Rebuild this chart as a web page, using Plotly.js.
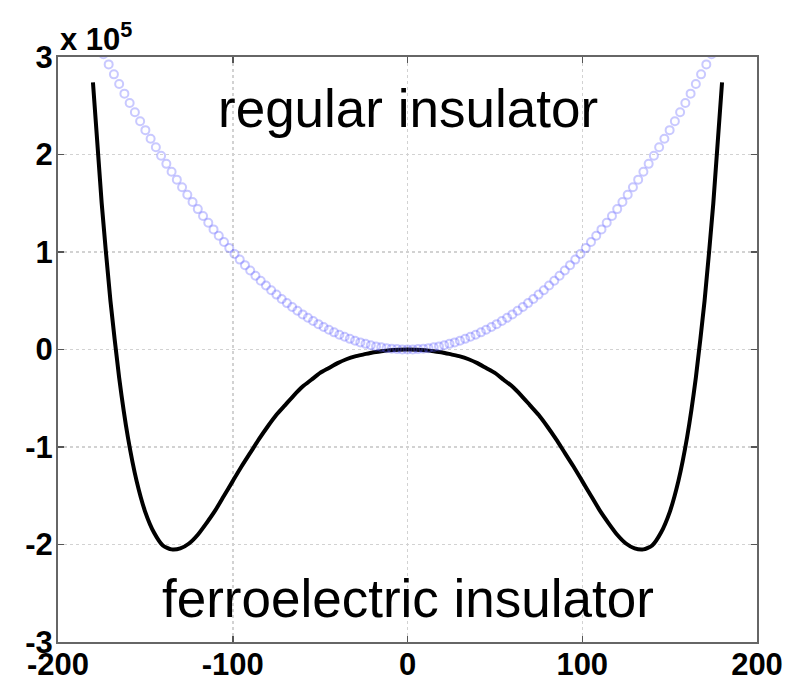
<!DOCTYPE html>
<html>
<head>
<meta charset="utf-8">
<script src="https://cdn.plot.ly/plotly-3.0.1.min.js"></script>
<style>html,body{margin:0;padding:0;background:#fff;}#chart{width:804px;height:683px;}</style>
</head>
<body>
<div id="chart"></div>
<script>
// Ferroelectric double-well curve (energy in units of 1e5)
var ferroX = [-180,-175,-170,-165,-160,-155,-150,-145,-140,-135,-130,-125,-120,-115,-110,-105,-100,-95,-90,-85,-80,-75,-70,-65,-60,-55,-50,-45,-40,-35,-30,-25,-20,-15,-10,-5,0,
              5,10,15,20,25,30,35,40,45,50,55,60,65,70,75,80,85,90,95,100,105,110,115,120,125,130,135,140,145,150,155,160,165,170,175,180];
var ferroY = [2.74,1.50,0.50,-0.29,-0.90,-1.35,-1.67,-1.88,-2.01,-2.05,-2.04,-1.99,-1.90,-1.78,-1.65,-1.50,-1.35,-1.20,-1.06,-0.92,-0.79,-0.67,-0.57,-0.47,-0.38,-0.31,-0.24,-0.19,-0.14,-0.10,-0.07,-0.05,-0.03,-0.017,-0.007,-0.002,0,
              -0.002,-0.007,-0.017,-0.03,-0.05,-0.07,-0.10,-0.14,-0.19,-0.24,-0.31,-0.38,-0.47,-0.57,-0.67,-0.79,-0.92,-1.06,-1.20,-1.35,-1.50,-1.65,-1.78,-1.90,-1.99,-2.04,-2.05,-2.01,-1.88,-1.67,-1.35,-0.90,-0.29,0.50,1.50,2.74];

// Regular insulator parabola (energy in units of 1e5)
var regX = [-174,-171,-168,-165,-162,-159,-156,-153,-150,-147,-144,-141,-138,-135,-132,-129,-126,-123,-120,-117,-114,-111,-108,-105,-102,-99,-96,-93,-90,-87,-84,-81,-78,-75,-72,-69,-66,-63,-60,-57,-54,-51,-48,-45,-42,-39,-36,-33,-30,-27,-24,-21,-18,-15,-12,-9,-6,-3,0,
            3,6,9,12,15,18,21,24,27,30,33,36,39,42,45,48,51,54,57,60,63,66,69,72,75,78,81,84,87,90,93,96,99,102,105,108,111,114,117,120,123,126,129,132,135,138,141,144,147,150,153,156,159,162,165,168,171,174];
var regY = [3.028,2.924,2.822,2.723,2.624,2.528,2.434,2.341,2.250,2.161,2.074,1.988,1.904,1.823,1.742,1.664,1.588,1.513,1.440,1.369,1.300,1.232,1.166,1.103,1.040,0.980,0.922,0.865,0.810,0.757,0.706,0.656,0.608,0.563,0.518,0.476,0.436,0.397,0.360,0.325,0.292,0.260,0.230,0.203,0.176,0.152,0.130,0.109,0.090,0.073,0.058,0.044,0.032,0.023,0.014,0.008,0.004,0.001,0,
            0.001,0.004,0.008,0.014,0.023,0.032,0.044,0.058,0.073,0.090,0.109,0.130,0.152,0.176,0.203,0.230,0.260,0.292,0.325,0.360,0.397,0.436,0.476,0.518,0.563,0.608,0.656,0.706,0.757,0.810,0.865,0.922,0.980,1.040,1.103,1.166,1.232,1.300,1.369,1.440,1.513,1.588,1.664,1.742,1.823,1.904,1.988,2.074,2.161,2.250,2.341,2.434,2.528,2.624,2.723,2.822,2.924,3.028];

var xTicks = [-200,-100,0,100,200];
var xTickLabels = ['-200','-100','0','100','200'];
var yTicks = [-3,-2,-1,0,1,2,3];
var yTickLabels = ['-3','-2','-1','0','1','2','3'];

var traces = [
  {x: ferroX, y: ferroY, type: 'scatter', mode: 'lines', line: {color: '#000', width: 4, shape: 'spline', smoothing: 0.6}, hoverinfo: 'skip'},
  {x: regX, y: regY, type: 'scatter', mode: 'markers', cliponaxis: true,
   marker: {symbol: 'circle-open', size: 8, color: 'rgba(90,90,255,0.33)', line: {width: 2, color: 'rgba(90,90,255,0.33)'}}, hoverinfo: 'skip'}
];

var tickFont = {family: 'Liberation Sans, Arial, sans-serif', size: 31, color: '#000', weight: 'bold'};
var layout = {
  width: 804, height: 683,
  margin: {l: 58, r: 47, t: 57, b: 41},
  paper_bgcolor: '#fff', plot_bgcolor: '#fff',
  showlegend: false,
  xaxis: {
    range: [-200, 200], tickmode: 'array', tickvals: xTicks, ticktext: xTickLabels,
    ticks: 'inside', ticklen: 6, tickcolor: '#555', tickwidth: 1.5,
    showline: true, linecolor: '#666', linewidth: 2, mirror: 'ticks',
    showgrid: true, gridcolor: '#d2d2d2', griddash: 'dot', gridwidth: 1.5,
    zeroline: false, tickfont: tickFont, ticklabelstandoff: -6
  },
  yaxis: {
    range: [-3, 3], tickmode: 'array', tickvals: yTicks, ticktext: yTickLabels,
    ticks: 'inside', ticklen: 6, tickcolor: '#555', tickwidth: 1.5,
    showline: true, linecolor: '#666', linewidth: 2, mirror: 'ticks',
    showgrid: true, gridcolor: '#d2d2d2', griddash: 'dot', gridwidth: 1.5,
    zeroline: false, tickfont: tickFont, ticklabelstandoff: -3
  },
  annotations: [
    {text: 'regular insulator', x: 0, y: 2.47, xref: 'x', yref: 'y', showarrow: false,
     xanchor: 'center', yanchor: 'middle', font: {family: 'Liberation Sans, Arial, sans-serif', size: 53, color: '#000'}},
    {text: 'ferroelectric insulator', x: 0, y: -2.55, xref: 'x', yref: 'y', showarrow: false,
     xanchor: 'center', yanchor: 'middle', font: {family: 'Liberation Sans, Arial, sans-serif', size: 53, color: '#000'}},
    {text: 'x 10<sup>5</sup>', x: 0, y: 1.035, xref: 'paper', yref: 'paper', showarrow: false,
     xanchor: 'left', yanchor: 'middle', xshift: 0, font: {family: 'Liberation Sans, Arial, sans-serif', size: 31, color: '#000', weight: 'bold'}}
  ]
};

Plotly.newPlot('chart', traces, layout, {displayModeBar: false, staticPlot: true});
</script>
</body>
</html>
